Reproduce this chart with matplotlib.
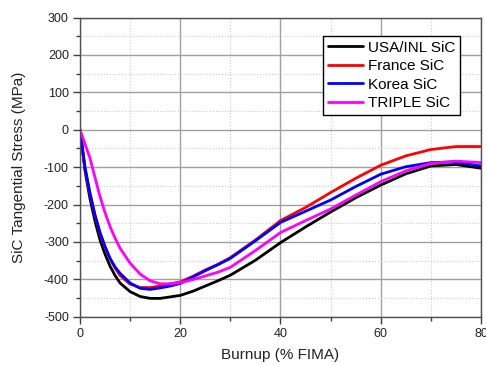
import matplotlib
matplotlib.use("Agg")
import matplotlib.pyplot as plt
from matplotlib.ticker import MultipleLocator

plt.rcParams['font.family'] = ['Liberation Sans', 'DejaVu Sans']
plt.rcParams['axes.unicode_minus'] = False

burnup = [0, 1, 2, 3, 4, 5, 6, 7, 8, 10, 12, 14, 16, 18, 20, 22.5, 25, 27.5, 30, 35, 40, 45, 50, 55, 60, 65, 70, 75, 80]
usa = [0, -110, -185, -245, -295, -333, -365, -390, -410, -433, -446, -451, -451, -447, -443, -432, -418, -404, -389, -349, -302, -260, -220, -182, -148, -118, -97, -93, -103]
france = [0, -105, -172, -230, -277, -315, -345, -370, -390, -413, -422, -422, -418, -412, -407, -392, -375, -360, -342, -295, -243, -208, -168, -130, -95, -70, -53, -45, -45]
korea = [0, -100, -170, -228, -275, -312, -344, -367, -384, -410, -424, -427, -423, -418, -411, -394, -377, -361, -344, -297, -248, -218, -188, -152, -119, -99, -88, -86, -97]
triple = [0, -38, -76, -128, -179, -222, -259, -290, -317, -357, -386, -404, -412, -412, -409, -401, -391, -381, -368, -323, -275, -243, -212, -175, -139, -110, -90, -84, -88]

series = [("USA/INL SiC", usa, "black"),
          ("France SiC", france, "#ff0000"),
          ("Korea SiC", korea, "#0000ff"),
          ("TRIPLE SiC", triple, "#ff00ff")]

fig = plt.figure(figsize=(4.86, 3.65), dpi=100)
ax = fig.add_axes([0.1646, 0.1323, 0.8251, 0.8197])

for label, vals, c in series:
    ax.plot(burnup, vals, color=c, lw=2.0, label=label, solid_capstyle='round', solid_joinstyle='round')

ax.set_xlim(0, 80)
ax.set_ylim(-500, 300)
ax.xaxis.set_major_locator(MultipleLocator(20))
ax.xaxis.set_minor_locator(MultipleLocator(10))
ax.yaxis.set_major_locator(MultipleLocator(100))
ax.yaxis.set_minor_locator(MultipleLocator(50))

ax.grid(which='major', color='#a0a0a0', lw=1.0, ls='-')
ax.grid(which='minor', color='#cccccc', lw=0.8, ls=':')
ax.set_axisbelow(True)

for s in ax.spines.values():
    s.set_color('#505050')
    s.set_linewidth(1.0)
ax.tick_params(which='major', direction='out', length=5, width=1, color='#404040', labelsize=9, labelcolor='#222222', pad=3)
ax.tick_params(which='minor', direction='out', length=3, width=1, color='#404040')

ax.set_xlabel('Burnup (% FIMA)', fontsize=11, color='#222222', labelpad=6)
ax.set_ylabel('SiC Tangential Stress (MPa)', fontsize=11, color='#222222', labelpad=13)

leg = ax.legend(loc='upper right', bbox_to_anchor=(0.948, 0.938), fontsize=11, frameon=True,
                fancybox=False, edgecolor='black', framealpha=1, handlelength=2.3,
                borderpad=0.3, labelspacing=0.3, handletextpad=0.35, borderaxespad=0)
leg.get_frame().set_linewidth(1.0)

fig.savefig('out.png', dpi=100)
